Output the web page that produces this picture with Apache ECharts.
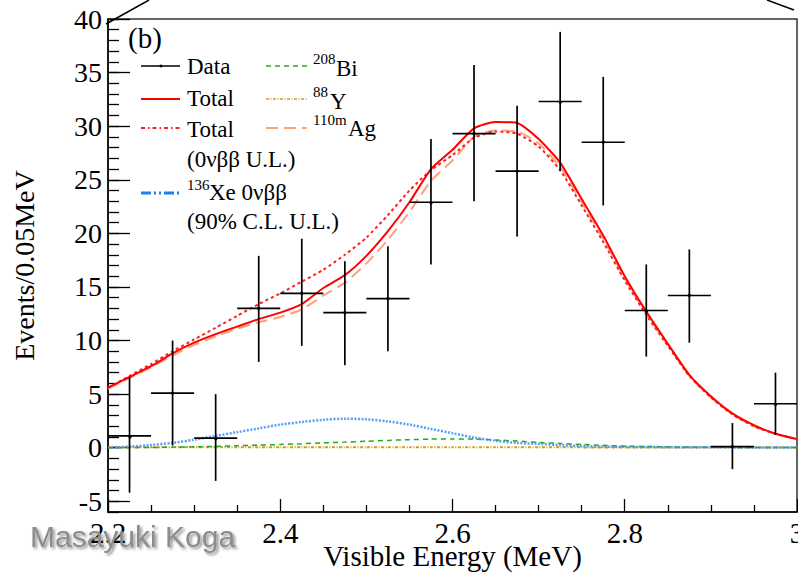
<!DOCTYPE html>
<html><head><meta charset="utf-8">
<script src="https://cdn.jsdelivr.net/npm/echarts@6/dist/echarts.min.js"></script>
<style>html,body{margin:0;padding:0;background:#fff}#c{width:798px;height:577px}</style>
</head><body><div id="c"></div>
<script>
// ---- data ----
const energy = [2.200,2.225,2.250,2.275,2.300,2.325,2.350,2.375,2.400,2.425,2.450,2.475,2.500,2.525,2.550,2.575,2.600,2.625,2.650,2.675,2.700,2.725,2.750,2.775,2.800,2.825,2.850,2.875,2.900,2.925,2.950,2.975,3.000];
const totalFit = [5.6,6.6,7.6,8.8,9.8,10.6,11.3,12.0,12.6,13.4,14.9,16.1,17.9,20.2,22.9,26.0,27.8,29.8,30.4,30.3,28.8,26.6,23.2,19.8,16.0,12.7,9.7,6.8,4.8,3.2,2.1,1.3,0.8];
const totalUL = [5.6,6.7,7.8,9.0,10.1,11.2,12.3,13.4,14.4,15.5,16.6,18.0,19.6,21.7,24.0,25.9,27.3,28.9,29.5,29.3,28.1,25.9,22.6,19.2,15.6,12.4,9.5,6.7,4.7,3.1,2.0,1.3,0.8];
const ag110m = [5.5,6.5,7.5,8.6,9.6,10.4,11.1,11.7,12.2,12.9,14.2,15.4,17.2,19.4,22.0,24.9,26.8,29.0,29.6,29.5,28.4,26.2,22.9,19.5,15.8,12.5,9.6,6.7,4.7,3.1,2.0,1.3,0.8];
const bi208 = [0.0,0.0,0.02,0.05,0.08,0.12,0.18,0.24,0.3,0.37,0.45,0.52,0.6,0.68,0.75,0.8,0.82,0.8,0.72,0.62,0.5,0.4,0.3,0.22,0.15,0.11,0.08,0.06,0.04,0.03,0.02,0.02,0.01];
const y88 = [0.03,0.03,0.03,0.03,0.03,0.03,0.03,0.03,0.03,0.03,0.03,0.03,0.03,0.03,0.03,0.03,0.03,0.03,0.03,0.03,0.03,0.03,0.03,0.02,0.02,0.02,0.02,0.02,0.02,0.02,0.02,0.02,0.02];
const xe136 = [0.0,0.1,0.25,0.45,0.75,1.1,1.45,1.8,2.15,2.4,2.6,2.7,2.65,2.45,2.15,1.75,1.35,0.95,0.65,0.45,0.35,0.25,0.15,0.1,0.08,0.06,0.05,0.04,0.03,0.03,0.02,0.02,0.02];

const binCenters = [2.225,2.275,2.325,2.375,2.425,2.475,2.525,2.575,2.625,2.675,2.725,2.775,2.825,2.875,2.925,2.975];
const counts =     [1.1,5.1,0.9,13.0,14.4,12.6,13.9,22.9,29.3,25.8,32.3,28.5,12.8,14.2,0.1,4.1];
const errTop =     [6.6,10.0,5.0,17.9,19.5,17.4,18.8,28.8,35.7,31.9,38.8,34.6,17.1,18.5,2.3,7.0];
const errBottom =  [-4.2,0.2,-3.1,8.0,9.5,7.7,9.0,17.1,23.0,19.7,25.8,22.6,8.5,9.8,-2.0,1.2];
const binHalfWidth = 0.025;

const yMajorTicks = [-5,0,5,10,15,20,25,30,35,40];
const yMinorTicks = [-6,-5,-4,-3,-2,-1,0,1,2,3,4,5,6,7,8,9,10,11,12,13,14,15,16,17,18,19,20,21,22,23,24,25,26,27,28,29,30,31,32,33,34,35,36,37,38,39,40];

// ---- chart ----
const serif = "'Liberation Serif','Times New Roman',serif";
const pairs = arr => energy.map((e,i)=>[e,arr[i]]);
const chart = echarts.init(document.getElementById('c'), null, {renderer:'svg'});

function legLine(x1,x2,y,color,dash,w){
  return {type:'line', z:50, shape:{x1:x1,y1:y,x2:x2,y2:y}, style:{stroke:color,lineWidth:w||2,lineDash:dash||null}};
}
function txt(x,y,t,size,extra){
  return Object.assign({type:'text', z:50, style:{x:x,y:y,text:t,font:(size||23)+'px '+serif,fill:'#000',textVerticalAlign:'middle'}}, extra||{});
}

const graphics = [
  {type:'line', z:60, shape:{x1:106,y1:24,x2:149,y2:0}, style:{stroke:'#000',lineWidth:1.5}},
  {type:'line', z:60, shape:{x1:767,y1:0,x2:794,y2:10}, style:{stroke:'#000',lineWidth:1.5}},
  txt(128,38,'(b)',29),
  legLine(141,180,66,'#000',null,1.5),
  {type:'circle', z:51, shape:{cx:161,cy:66,r:1.5}, style:{fill:'#000'}},
  txt(187,66,'Data'),
  legLine(141,180,99,'#ff0000',null,2),
  txt(187,98,'Total'),
  legLine(141,180,128,'#ff2020',[4,3,1.5,3],2),
  txt(187,129,'Total'),
  txt(187,159,'(0νββ U.L.)'),
  legLine(141,180,193,'#1a7ff0',[10,3,2,3,2,3],3),
  txt(187,185,'136',15),
  txt(209,192,'Xe 0νββ'),
  txt(187,221,'(90% C.L. U.L.)'),
  legLine(266,307,66,'#22aa22',[5,4],1.5),
  txt(313,59,'208',15),
  txt(336,68,'Bi'),
  legLine(266,307,99,'#d49a1a',[3,1.5,1,1.5],1.5),
  txt(313,92,'88',15),
  txt(330,101,'Y'),
  legLine(266,307,128,'#ffa07a',[12,6],2),
  txt(313,120,'110m',15),
  txt(348,128,'Ag'),
  {type:'text', z:100, style:{x:30,y:536,text:'Masayuki Koga',font:'30px "Liberation Sans",Arial,sans-serif',fill:'#8c8c8c',textVerticalAlign:'middle',
    textShadowColor:'rgba(0,0,0,0.45)',textShadowBlur:3,textShadowOffsetX:2,textShadowOffsetY:2}}
];

const option = {
  animation:false,
  backgroundColor:'#fff',
  grid:{left:108,right:1,top:19,bottom:65,outerBoundsMode:'none',containLabel:false,show:true,borderColor:'#333',borderWidth:1.5,backgroundColor:'transparent'},
  xAxis:{type:'value',min:2.2,max:3.0,interval:0.2,
    axisLine:{show:true,onZero:false,lineStyle:{color:'#000',width:1.5}},
    axisTick:{inside:true,length:13,lineStyle:{color:'#000',width:1.3}},
    minorTick:{show:true,splitNumber:4,length:7,lineStyle:{color:'#000',width:1.3}},
    splitLine:{show:false},
    axisLabel:{margin:6,fontSize:29,fontFamily:serif,color:'#000',formatter:v=>String(Math.round(v*10)/10)},
    name:'Visible Energy (MeV)',nameLocation:'middle',nameGap:29,nameMoveOverlap:false,
    nameTextStyle:{fontSize:29,fontFamily:serif,color:'#000'}},
  yAxis:[
    {type:'value',min:-6,max:40,position:'left',
      axisLine:{show:true,onZero:false,lineStyle:{color:'#000',width:1.5}},
      axisTick:{inside:true,length:22,customValues:yMajorTicks,lineStyle:{color:'#000',width:1.3}},
      axisLabel:{margin:6,fontSize:28,fontFamily:serif,color:'#000',customValues:yMajorTicks},
      splitLine:{show:false},
      name:'Events/0.05MeV',nameLocation:'middle',nameGap:70,nameMoveOverlap:false,
      nameTextStyle:{fontSize:28,fontFamily:serif,color:'#000'}},
    {type:'value',min:-6,max:40,position:'left',
      axisLine:{show:false},
      axisTick:{inside:true,length:11,customValues:yMinorTicks,lineStyle:{color:'#000',width:1.3}},
      axisLabel:{show:false},splitLine:{show:false}}
  ],
  graphic:graphics,
  series:[
    {type:'line',name:'88Y',data:pairs(y88),showSymbol:false,smooth:0.2,lineStyle:{color:'#d49a1a',width:2,type:[3,1.5,1,1.5]},z:3},
    {type:'line',name:'208Bi',data:pairs(bi208),showSymbol:false,smooth:0.2,lineStyle:{color:'#22aa22',width:1.5,type:[5,4]},z:3},
    {type:'line',name:'136Xe',data:pairs(xe136),showSymbol:false,smooth:0.3,lineStyle:{color:'#3b8ff5',width:2.5,type:[2,1.5],opacity:0.85},z:4},
    {type:'line',name:'110mAg',data:pairs(ag110m),showSymbol:false,smooth:0.2,lineStyle:{color:'#ffa07a',width:2,type:[12,6]},z:4},
    {type:'line',name:'TotalUL',data:pairs(totalUL),showSymbol:false,smooth:0.2,lineStyle:{color:'#ff2020',width:2,type:[3,3]},z:5},
    {type:'line',name:'Total',data:pairs(totalFit),showSymbol:false,smooth:0.2,lineStyle:{color:'#ff0000',width:2},z:6},
    {type:'custom',name:'Data',z:10,clip:true,
      data:binCenters.map((x,i)=>[x,counts[i],errBottom[i],errTop[i]]),
      renderItem:function(params,api){
        const x=api.value(0), y=api.value(1);
        const c=api.coord([x,y]);
        const l=api.coord([x-binHalfWidth,y]);
        const r=api.coord([x+binHalfWidth,y]);
        const t=api.coord([x,api.value(3)]);
        const b=api.coord([x,api.value(2)]);
        return {type:'group',children:[
          {type:'line',shape:{x1:l[0],y1:c[1],x2:r[0],y2:c[1]},style:{stroke:'#000',lineWidth:1.7}},
          {type:'line',shape:{x1:c[0],y1:t[1],x2:c[0],y2:b[1]},style:{stroke:'#000',lineWidth:1.7}},
          {type:'circle',shape:{cx:c[0],cy:c[1],r:1.6},style:{fill:'#000'}}
        ]};
      }}
  ]
};
chart.setOption(option);
</script></body></html>
